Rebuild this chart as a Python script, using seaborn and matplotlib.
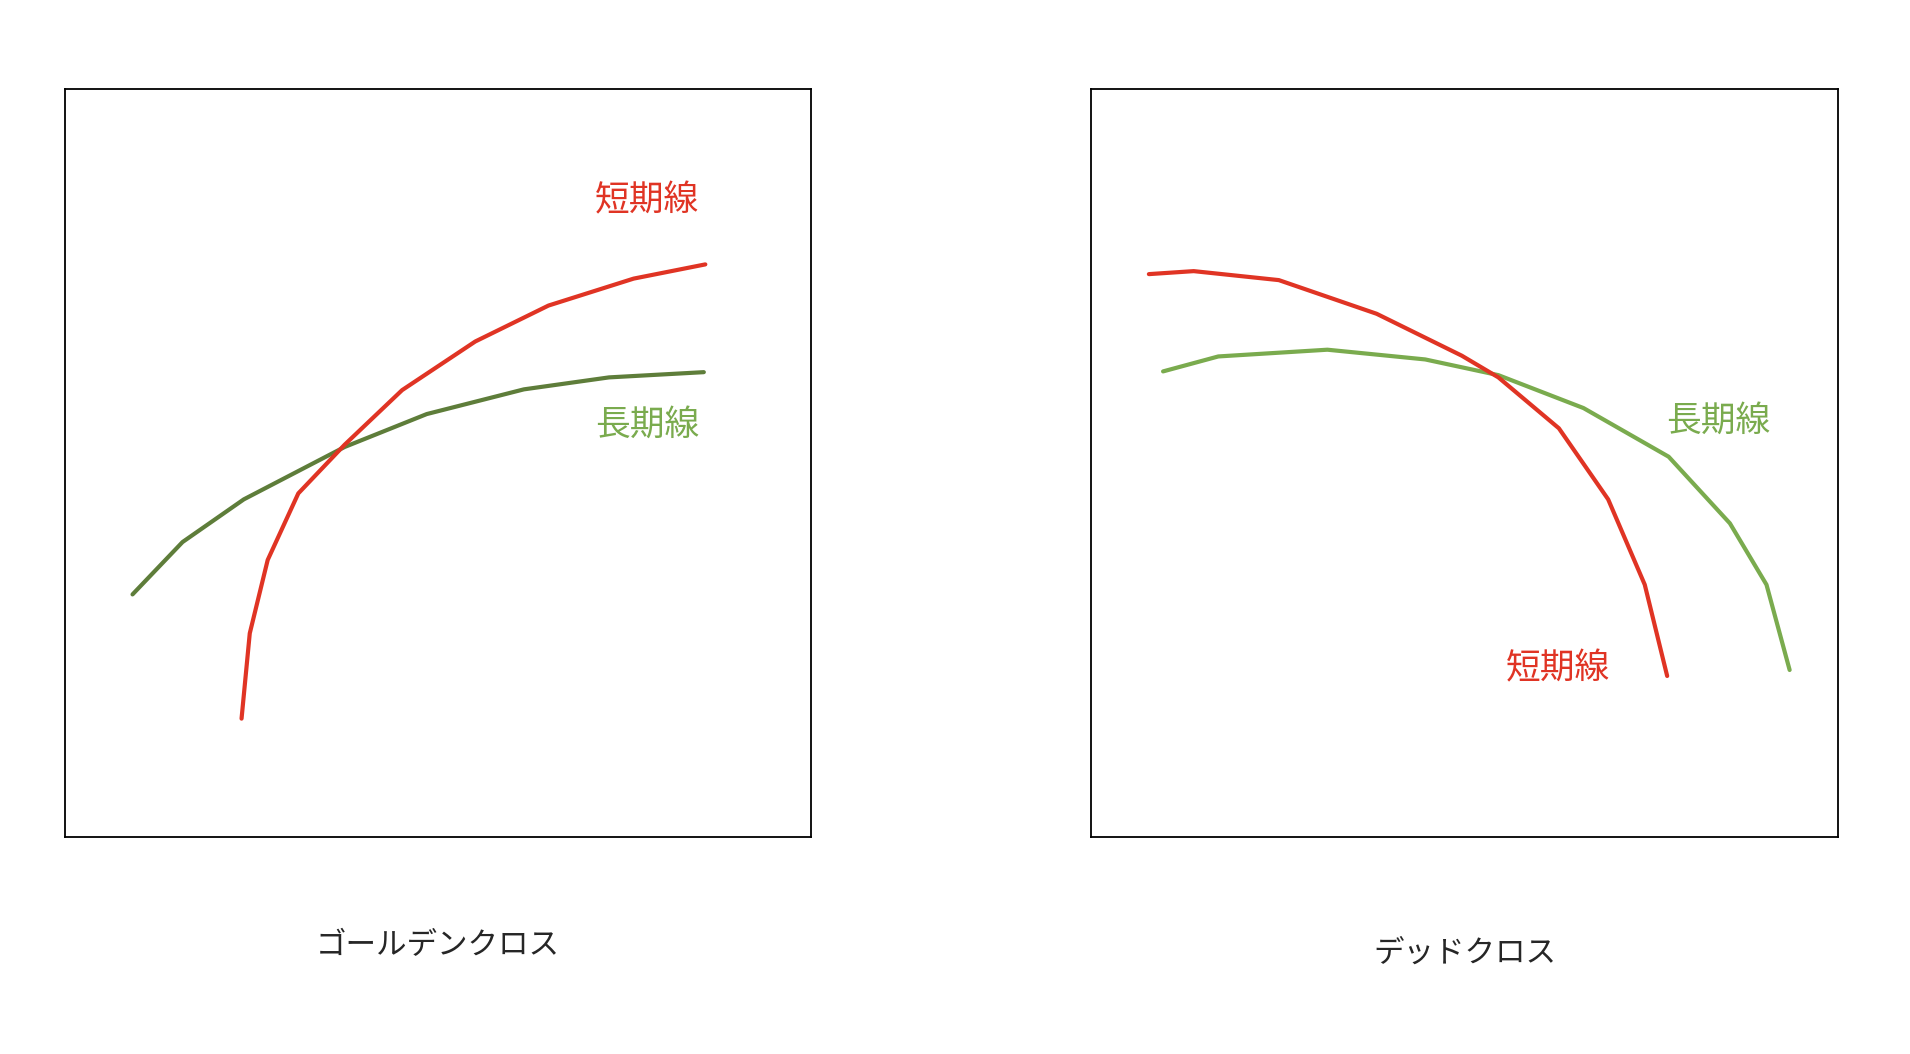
import matplotlib
matplotlib.use("Agg")
import matplotlib.pyplot as plt
import seaborn as sns
import pandas as pd

sns.set_theme(style="white")
plt.rcParams['font.family'] = ['Noto Sans CJK JP', 'DejaVu Sans']

titles = ["ゴールデンクロス", "デッドクロス"]
short_label = "短期線"
long_label = "長期線"

gc_short_x = [23.7, 24.8, 27.2, 31.3, 37.5, 45.2, 55.0, 64.8, 76.2, 85.8]
gc_short_y = [15.8, 27.2, 37.0, 45.9, 52.4, 59.7, 66.2, 71.0, 74.6, 76.5]
gc_long_x = [9.1, 15.8, 24.0, 37.5, 48.5, 61.5, 72.9, 85.6]
gc_long_y = [32.4, 39.4, 45.1, 52.1, 56.5, 59.8, 61.4, 62.1]

dc_short_x = [7.7, 13.7, 25.1, 38.2, 49.6, 54.5, 62.6, 69.2, 74.1, 77.1]
dc_short_y = [75.2, 75.6, 74.4, 69.9, 64.3, 61.4, 54.6, 45.1, 33.7, 21.5]
dc_long_x = [9.6, 17.0, 31.6, 44.7, 54.5, 65.9, 77.3, 85.5, 90.4, 93.5]
dc_long_y = [62.2, 64.2, 65.1, 63.8, 61.7, 57.3, 50.8, 41.9, 33.7, 22.3]

RED = "#e03424"
fig = plt.figure(figsize=(19.1, 10.54), dpi=100)
ax1 = fig.add_axes([0.0338, 0.206, 0.391, 0.71])
ax2 = fig.add_axes([0.5714, 0.206, 0.391, 0.71])

panels = [
    (ax1, gc_short_x, gc_short_y, gc_long_x, gc_long_y, "#5e7d3a",
     [(78, 85, short_label, RED), (78, 55, long_label, "#7aab4e")]),
    (ax2, dc_short_x, dc_short_y, dc_long_x, dc_long_y, "#7aab4e",
     [(84, 55.5, long_label, "#7aab4e"), (62.5, 22.5, short_label, RED)]),
]
for (ax, sx, sy, lx, ly, lc, labels), title in zip(panels, titles):
    sns.lineplot(x=lx, y=ly, ax=ax, color=lc, lw=3, sort=False)
    sns.lineplot(x=sx, y=sy, ax=ax, color=RED, lw=3, sort=False)
    ax.set_xlim(0, 100); ax.set_ylim(0, 100)
    ax.set_xticks([]); ax.set_yticks([])
    for s in ax.spines.values():
        s.set_color("black"); s.set_linewidth(1.3); s.set_visible(True)
    for x, y, t, c in labels:
        ax.text(x, y, t, color=c, fontsize=25, ha="center", va="center")
    ax.text(50, -14.5 if ax is ax1 else -15.5, title, fontsize=22, ha="center",
            va="center", transform=ax.transData, clip_on=False)

fig.savefig("out.png", dpi=100, facecolor="white")
